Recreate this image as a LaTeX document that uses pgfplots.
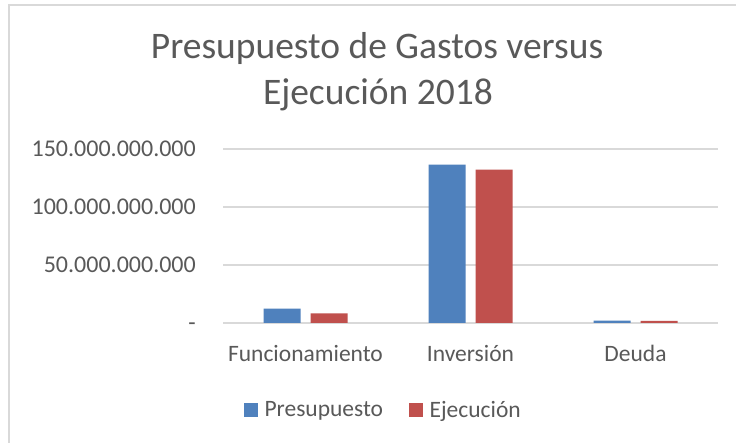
\documentclass[border=0pt]{standalone}
\usepackage{pgfplots}
\pgfplotsset{compat=1.18}
\usepackage{fontspec}
\setmainfont{Carlito}
\definecolor{txt}{HTML}{595959}
\definecolor{grd}{HTML}{D9D9D9}
\definecolor{bblue}{HTML}{4F81BD}
\definecolor{bred}{HTML}{C0504D}
\begin{document}
\begin{tikzpicture}[x=1pt,y=1pt]
\useasboundingbox (0,0) rectangle (736,443);
\fill[white] (0,0) rectangle (736,443);
\draw[grd, line width=2pt] (9,-5) -- (9,438) -- (740,438);
\node[anchor=base, text=txt, font=\fontsize{37.5}{40}\selectfont, inner sep=0pt] at (377,384) {Presupuesto de Gastos versus};
\node[anchor=base, text=txt, font=\fontsize{37.5}{40}\selectfont, inner sep=0pt] at (378,338) {Ejecución 2018};
\begin{axis}[
  at={(223pt,120pt)}, anchor=south west,
  scale only axis, width=495pt, height=174pt,
  xmin=-0.5, xmax=2.5, ymin=0, ymax=150e9,
  ybar=10pt, bar width=37pt,
  axis line style={draw=none},
  major tick length=0pt,
  xtick={0,1,2}, xticklabels={Funcionamiento,Inversión,Deuda},
  ytick={0,50e9,100e9,150e9},
  yticklabels={{\vphantom{0}-\hspace{12pt}},{50.000.000.000},{100.000.000.000},{150.000.000.000}},
  ymajorgrids, major grid style={draw=grd, line width=1.6pt},
  xticklabel style={anchor=base, inner sep=0pt, yshift=-39pt, text=txt, font=\fontsize{23.5}{26}\selectfont},
  yticklabel style={anchor=east, inner sep=0pt, xshift=-27pt, text=txt, font=\fontsize{24}{26}\selectfont},
  scaled y ticks=false,
  legend columns=2,
  legend style={draw=none, fill=none, at={(axis description cs:0.322,-0.5)}, anchor=center,
    nodes={inner sep=0pt, text=txt, font=\fontsize{23.5}{26}\selectfont},
    /tikz/every odd column/.append style={column sep=6.5pt},
    /tikz/every even column/.append style={column sep=26pt}},
  legend cell align=left,
]
\addplot[fill=bblue, draw=none, legend image code/.code={\fill[bblue] (0pt,-7pt) rectangle (14pt,7pt);}] coordinates {(0,12.3e9) (1,136.6e9) (2,2.0e9)};
\addplot[fill=bred, draw=none, legend image code/.code={\fill[bred] (0pt,-7pt) rectangle (14pt,7pt);}] coordinates {(0,8.3e9) (1,132.3e9) (2,1.9e9)};
\legend{Presupuesto,Ejecución}
\end{axis}
\end{tikzpicture}
\end{document}
